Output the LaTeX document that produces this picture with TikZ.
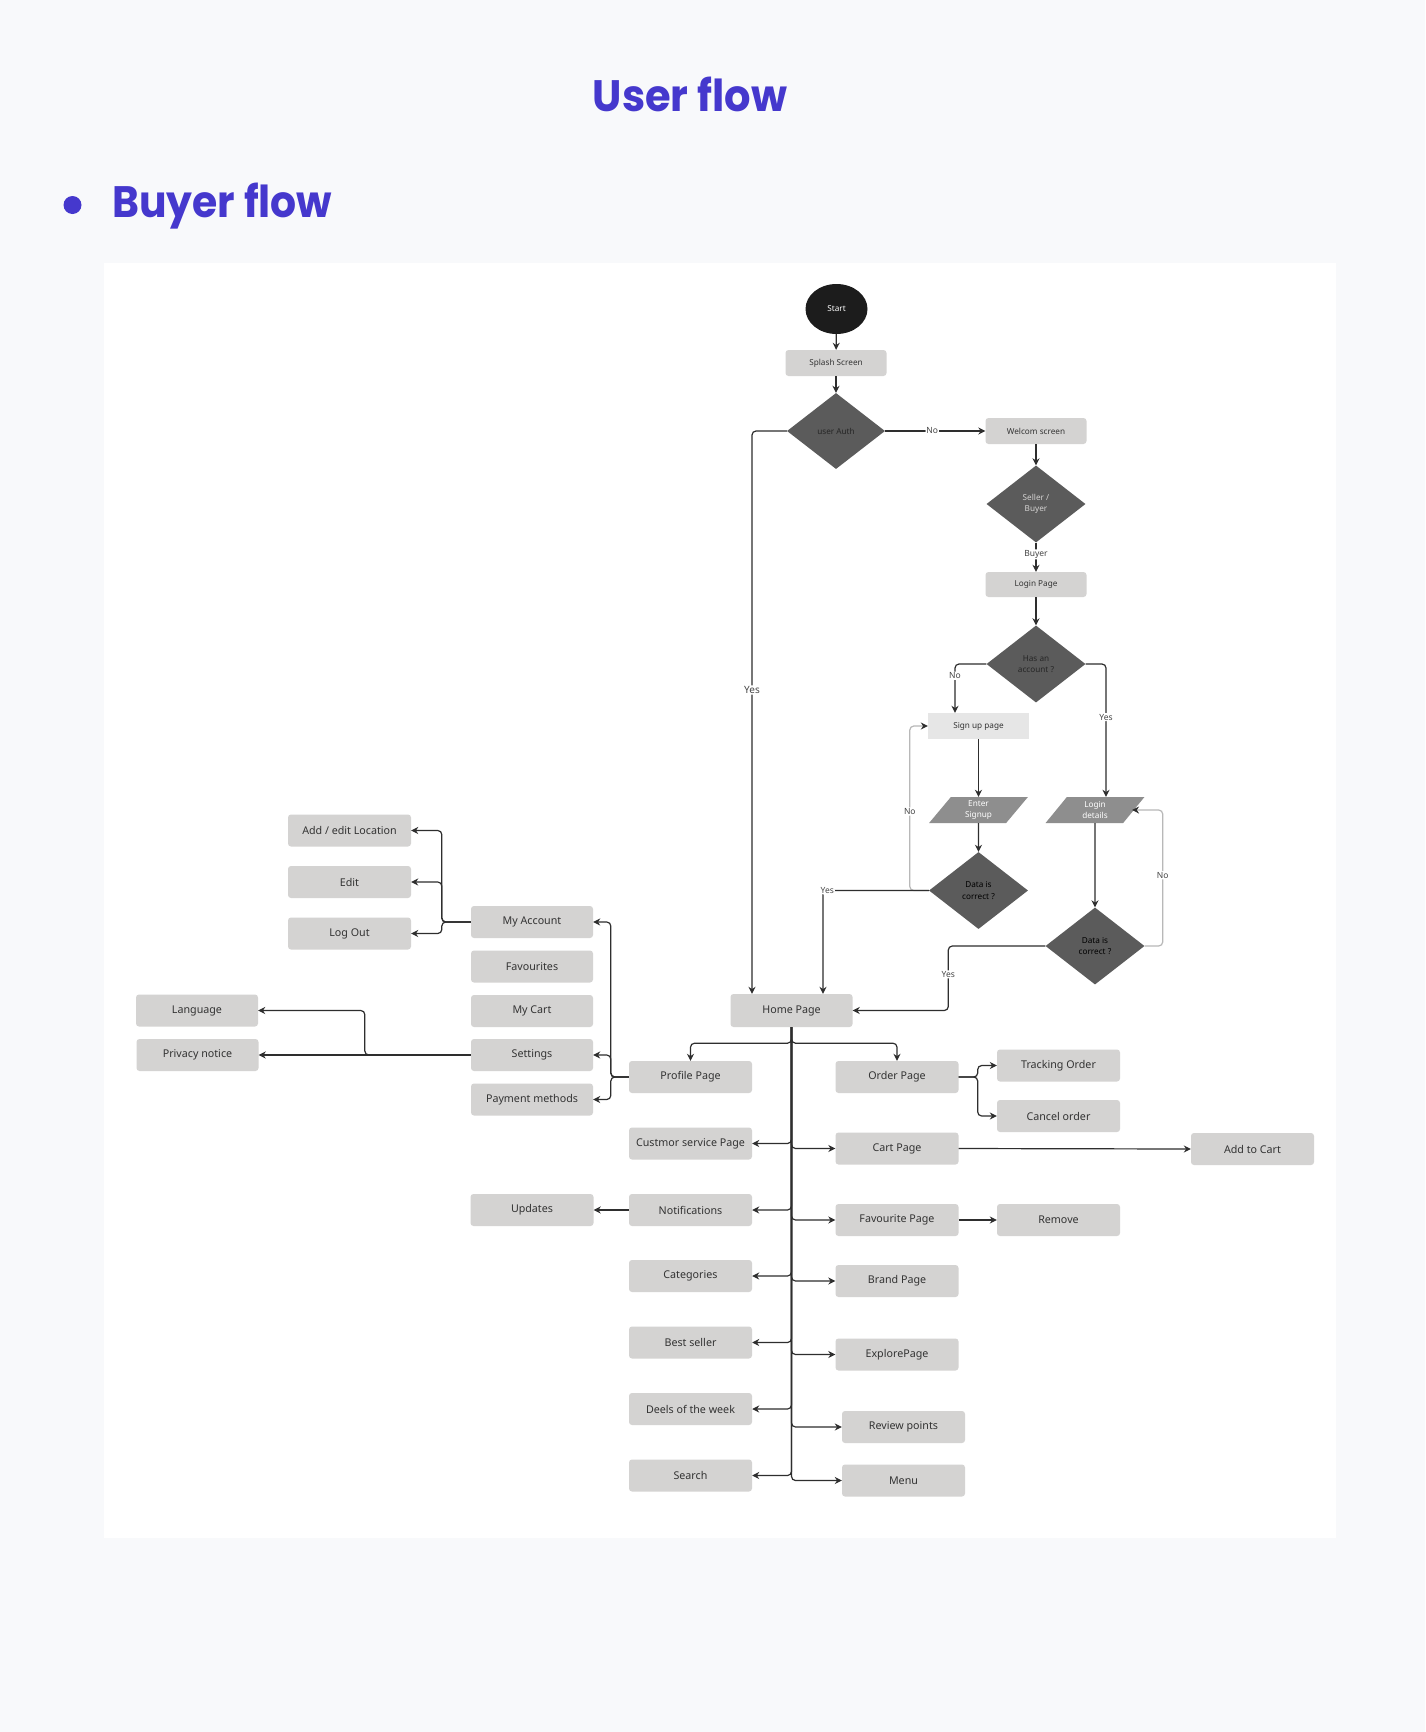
\documentclass[tikz,border=0pt]{standalone}
\usepackage{fontspec}
\setmainfont{Noto Sans}
\newfontfamily\titlefont{Poppins}
\usetikzlibrary{shapes.geometric,arrows.meta,calc}
\definecolor{pagebg}{HTML}{F8F9FB}
\definecolor{titlec}{RGB}{69,56,205}
\definecolor{boxc}{HTML}{D4D3D2}
\definecolor{txtc}{HTML}{333333}
\definecolor{diac}{HTML}{5B5B5B}
\definecolor{diatxt}{HTML}{262626}
\definecolor{startc}{HTML}{1C1C1C}
\definecolor{parac}{HTML}{8E8E8E}
\definecolor{signc}{HTML}{E6E6E6}
\definecolor{linec}{HTML}{2E2E2E}
\definecolor{loopc}{HTML}{B8B8B8}
\definecolor{lblc}{HTML}{444444}
\tikzset{
 box/.style={rectangle, rounded corners=3pt, fill=boxc, text=txtc, minimum width=123pt, minimum height=32pt, inner sep=0pt, font=\fontsize{10.7}{12}\selectfont},
 sbox/.style={box, minimum width=101pt, minimum height=26pt, font=\fontsize{8.2}{9.5}\selectfont},
 dec/.style={diamond, fill=diac, minimum width=99pt, minimum height=77pt, inner sep=0pt, align=center, font=\fontsize{8.2}{11}\selectfont},
 para/.style={trapezium, trapezium left angle=60, trapezium right angle=120, trapezium stretches=true, fill=parac, text=white, minimum width=99pt, minimum height=26pt, inner sep=0pt, align=center, font=\bfseries\fontsize{8.2}{10.5}\selectfont},
 conn/.style={draw=linec, line width=1.2pt, rounded corners=4pt, -{Stealth[length=7pt,width=7pt,color=linec]}},
 gconn/.style={conn, draw=loopc},
 lbl/.style={fill=white, inner sep=1pt, text=lblc, font=\fontsize{8.5}{10}\selectfont},
}
\begin{document}
\begin{tikzpicture}[x=1pt,y=-1pt]
\useasboundingbox (0,0) rectangle (1425,1732);
\fill[pagebg] (0,0) rectangle (1425,1732);
\fill[white] (104,263) rectangle (1336,1538);
% titles
\node[anchor=base, text=titlec, font=\titlefont\bfseries\fontsize{44}{44}\selectfont] (t1) at (690,111) {\scalebox{0.945}[1]{User flow}};
\fill[titlec] (72.5,205) circle (9);
\node[anchor=base west, inner sep=0pt, text=titlec, font=\titlefont\bfseries\fontsize{44}{44}\selectfont] (t2) at (112,217) {\scalebox{0.93}[1]{Buyer flow}};
% top flow
\node[ellipse, fill=startc, text=white, minimum width=62pt, minimum height=50pt, inner sep=0pt, font=\bfseries\fontsize{8.2}{9}\selectfont] (start) at (836.5,309) {Start};
\node[sbox] (splash) at (836,363) {Splash Screen};
\node[dec, minimum width=98pt, minimum height=76pt, text=diatxt] (auth) at (836,431) {user Auth};
\node[sbox] (welcome) at (1036,431) {Welcom screen};
\node[dec, text=boxc] (seller) at (1036,504) {Seller /\\Buyer};
\node[sbox, minimum height=25pt] (login) at (1036,584.5) {Login Page};
\node[dec, text=diatxt] (hasacc) at (1036,664) {Has an\\account ?};
\node[rectangle, fill=signc, text=txtc, minimum width=101pt, minimum height=26pt, inner sep=0pt, font=\bfseries\fontsize{8.2}{9.5}\selectfont] (signup) at (978.5,726) {Sign up page};
\node[para] (enter) at (978.5,810) {Enter\\Signup};
\node[para] (logdet) at (1095,810) {Login\\details};
\node[dec, text=black, font=\bfseries\fontsize{8.2}{11.5}\selectfont] (dataL) at (978.5,890.5) {Data is\\correct ?};
\node[dec, text=black, font=\bfseries\fontsize{8.2}{11.5}\selectfont] (dataR) at (1095,946) {Data is\\correct ?};
\node[box, minimum width=122pt, minimum height=33pt] (home) at (791.5,1010.5) {Home Page};
% left column
\node[box] (profile) at (690.5,1077) {Profile Page};
\node[box] (cust) at (690.5,1143.5) {Custmor service Page};
\node[box] (notif) at (690.5,1210) {Notifications};
\node[box] (categ) at (690.5,1276) {Categories};
\node[box] (best) at (690.5,1342.5) {Best seller};
\node[box] (deels) at (690.5,1409) {Deels of the week};
\node[box] (search) at (690.5,1475.5) {Search};
% right column
\node[box] (order) at (897,1077) {Order Page};
\node[box] (cart) at (897,1148.5) {Cart Page};
\node[box] (fav) at (897,1220) {Favourite Page};
\node[box] (brand) at (897,1281) {Brand Page};
\node[box] (explore) at (897,1354.5) {ExplorePage};
\node[box] (review) at (903.5,1427) {Review points};
\node[box] (menu) at (903.5,1480.5) {Menu};
\node[box] (tracking) at (1058.5,1065.5) {Tracking Order};
\node[box] (cancel) at (1058.5,1116) {Cancel order};
\node[box] (addcart) at (1252.5,1149) {Add to Cart};
\node[box] (remove) at (1058.5,1220) {Remove};
\node[box] (updates) at (532,1210) {Updates};
% profile subtree
\node[box, minimum width=122pt] (myacc) at (532,922) {My Account};
\node[box, minimum width=122pt] (favs) at (532,966.5) {Favourites};
\node[box, minimum width=122pt] (mycart) at (532,1011) {My Cart};
\node[box, minimum width=122pt] (settings) at (532,1055) {Settings};
\node[box, minimum width=122pt] (payment) at (532,1099.5) {Payment methods};
\node[box] (addloc) at (349.5,830.5) {Add / edit Location};
\node[box] (edit) at (349.5,882) {Edit};
\node[box] (logout) at (349.5,933.5) {Log Out};
\node[box, minimum width=122pt] (language) at (197,1010.5) {Language};
\node[box, minimum width=122pt] (privacy) at (197.5,1055) {Privacy notice};
% connectors: top
\draw[conn] (start) -- (splash);
\draw[conn] (splash) -- (auth);
\draw[conn] (auth.east) -- node[lbl, pos=0.47]{No} (welcome.west);
\draw[conn] (auth.west) -| node[lbl, pos=0.73, font=\fontsize{10}{12}\selectfont]{Yes} ([xshift=-39.5pt]home.north);
\draw[conn] (welcome) -- (seller);
\draw[conn] (seller.south) -- node[lbl, pos=0.4]{Buyer} (login.north);
\draw[conn] (login) -- (hasacc);
\draw[conn] (hasacc.west) -| node[lbl, pos=0.62]{No} ([xshift=-23.5pt]signup.north);
\draw[conn] (hasacc.east) -| node[lbl, pos=0.7]{Yes} ([xshift=11pt]logdet.north);
\draw[conn] (signup) -- (enter);
\draw[conn] (enter) -- (dataL);
\draw[conn] (logdet.south) -- (dataR.north);
\draw[gconn] (dataL.west) -- ++(-19,0) |- node[lbl, pos=0.24]{No} (signup.west);
\draw[conn] (dataL.west) -| node[lbl, pos=0.48]{Yes} ([xshift=31.5pt]home.north);
\draw[gconn] (dataR.east) -- ++(18,0) |- node[lbl, pos=0.26]{No} ([xshift=-2pt]logdet.east);
\draw[conn] (dataR.west) -- ++(-97,0) |- node[lbl, pos=0.22]{Yes} (home.east);
% home spine
\draw[conn] (home.south) -- ++(0,16) -| (profile.north);
\draw[conn] (home.south) -- ++(0,16) -| (order.north);
\draw[conn] (home.south) |- (cust.east);
\draw[conn] (home.south) |- (notif.east);
\draw[conn] (home.south) |- (categ.east);
\draw[conn] (home.south) |- (best.east);
\draw[conn] (home.south) |- (deels.east);
\draw[conn] (home.south) |- (search.east);
\draw[conn] (home.south) |- (cart.west);
\draw[conn] (home.south) |- (fav.west);
\draw[conn] (home.south) |- (brand.west);
\draw[conn] (home.south) |- (explore.west);
\draw[conn] (home.south) |- (review.west);
\draw[conn] (home.south) |- (menu.west);
% right subtrees
\draw[conn] (order.east) -- ++(19,0) |- (tracking.west);
\draw[conn] (order.east) -- ++(19,0) |- (cancel.west);
\draw[conn] (cart.east) -- (addcart.west);
\draw[conn] (fav.east) -- (remove.west);
\draw[conn] (notif.west) -- (updates.east);
% profile subtree
\draw[conn] (profile.west) -- ++(-18,0) |- (myacc.east);
\draw[conn] (profile.west) -- ++(-18,0) |- (settings.east);
\draw[conn] (profile.west) -- ++(-18,0) |- (payment.east);
\draw[conn] (myacc.west) -- ++(-29,0) |- (addloc.east);
\draw[conn] (myacc.west) -- ++(-29,0) |- (edit.east);
\draw[conn] (myacc.west) -- ++(-29,0) |- (logout.east);
\draw[conn] (settings.west) -- ++(-106,0) |- (language.east);
\draw[conn] (settings.west) -- (privacy.east);
\end{tikzpicture}
\end{document}
